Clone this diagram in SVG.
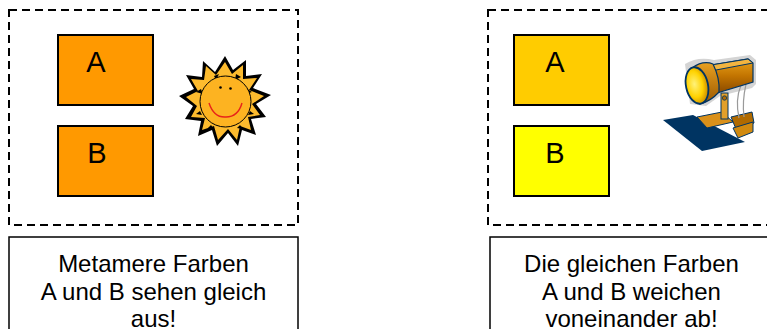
<svg xmlns="http://www.w3.org/2000/svg" width="767" height="329" viewBox="0 0 767 329">
  <defs>
    <style>
      .frame { fill: none; stroke: #000; stroke-width: 2; stroke-dasharray: 8 5; }
      .caption { fill: #fff; stroke: #000; stroke-width: 1.5; }
      .swatch { stroke: #000; stroke-width: 2; }
      .letter { font-family: "Liberation Sans", Arial, sans-serif; font-size: 29px; fill: #000; text-anchor: middle; }
      .label { font-family: "Liberation Sans", Arial, sans-serif; font-size: 24px; fill: #000; text-anchor: middle; }
    </style>
    <radialGradient id="lens" cx="0.4" cy="0.45" r="0.6">
      <stop offset="0" stop-color="#FFF27A"/>
      <stop offset="0.6" stop-color="#FFD200"/>
      <stop offset="1" stop-color="#C98A00"/>
    </radialGradient>
    <linearGradient id="housing" x1="0" y1="0" x2="0" y2="1">
      <stop offset="0" stop-color="#E9A21C"/>
      <stop offset="0.5" stop-color="#C27400"/>
      <stop offset="1" stop-color="#8A4A00"/>
    </linearGradient>
    <linearGradient id="shade" x1="0" y1="0" x2="0" y2="1">
      <stop offset="0" stop-color="#E8A020"/>
      <stop offset="1" stop-color="#9A5800"/>
    </linearGradient>
  </defs>

  <!-- left panel: daylight -->
  <g id="panel-left">
    <rect class="frame" x="9" y="10" width="289" height="215"/>
  </g>
  <g id="left-a">
    <rect class="swatch" x="58" y="35" width="95" height="70" fill="#FF9900"/>
    <text class="letter" x="96" y="72">A</text>
  </g>
  <g id="left-b">
    <rect class="swatch" x="58" y="126" width="95" height="70" fill="#FF9900"/>
    <text class="letter" x="97" y="163">B</text>
  </g>
  <g id="sun">
    <!-- outer black ray outline -->
    <polygon fill="#000" points="225,56 233,70 246,60 246,76 262,74 253,88 271,95 256,104 266,117 251,119 256,135 242,130 238,146 228,133 217,146 212,130 198,136 201,121 185,119 193,106 179,96 194,89 186,75 202,77 203,61 215,72"/>
    <!-- yellow rays -->
    <polygon fill="#FDBB2E" points="225,62 232,74 243,65 243,79 257,78 249,90 264,96 252,104 260,115 248,117 251,130 240,126 237,140 228,129 218,140 214,126 202,130 205,118 191,117 197,106 186,97 198,91 191,79 204,80 206,66 216,75"/>
    <!-- small dark accents at the ray bases -->
    <g fill="#000">
      <polygon points="214,76 219,74 216,80"/>
      <polygon points="236,74 241,77 235,80"/>
      <polygon points="247,89 252,92 246,94"/>
      <polygon points="250,111 254,114 248,115"/>
      <polygon points="240,125 243,129 237,128"/>
      <polygon points="211,125 214,129 208,128"/>
      <polygon points="200,111 196,114 202,115"/>
      <polygon points="201,89 196,92 203,94"/>
    </g>
    <circle cx="225.5" cy="101.5" r="25.5" fill="#FDB321" stroke="#000" stroke-width="1"/>
    <circle cx="220.5" cy="87.5" r="1.3" fill="#000"/>
    <circle cx="230.5" cy="88.5" r="1.3" fill="#000"/>
    <path d="M209,103 Q214,118 226,117 Q238,117 242,103" fill="none" stroke="#E8231A" stroke-width="1.4"/>
  </g>
  <g id="caption-left">
    <rect class="caption" x="9" y="237" width="289" height="100"/>
    <text class="label" x="153.5" y="272">Metamere Farben</text>
    <text class="label" x="153.5" y="300">A und B sehen gleich</text>
    <text class="label" x="153.5" y="327">aus!</text>
  </g>

  <!-- right panel: lamp light -->
  <g id="panel-right">
    <rect class="frame" x="488" y="10" width="289" height="215"/>
  </g>
  <g id="right-a">
    <rect class="swatch" x="514" y="35" width="95" height="70" fill="#FFCC00"/>
    <text class="letter" x="555" y="72">A</text>
  </g>
  <g id="right-b">
    <rect class="swatch" x="514" y="126" width="95" height="70" fill="#FFFF00"/>
    <text class="letter" x="555" y="163">B</text>
  </g>
  <g id="lamp">
    <!-- light grey halo behind the head -->
    <path d="M685,64 Q698,56 714,60 L750,55 L756,60 L756,84 L752,88 L720,96 L706,106 L690,104 Z" fill="#D4D4D4"/>
    <!-- cast shadow on the table -->
    <polygon points="663,120 693,115 745,142 702,151" fill="#003462"/>
    <!-- clamp -->
    <polygon points="731,117 752,112 754,123 736,129" fill="#B06A00" stroke="#003462" stroke-width="1"/>
    <polygon points="733,128 753,122 753,132 738,138" fill="#D18A10" stroke="#003462" stroke-width="1"/>
    <!-- base plate -->
    <polygon points="697,117 722,112 733,122 707,128" fill="#D9901A" stroke="#003462" stroke-width="1"/>
    <!-- stem -->
    <rect x="721" y="93" width="7" height="26" fill="#E3A02A" stroke="#003462" stroke-width="1"/>
    <circle cx="724.5" cy="98" r="2.2" fill="#B06A00" stroke="#003462" stroke-width="0.8"/>
    <!-- cable -->
    <path d="M741,85 Q735,100 739,118 M746,84 Q742,102 744,117" fill="none" stroke="#9A9A9A" stroke-width="1.2"/>
    <!-- housing -->
    <polygon points="711,65 748,59 753,63 753,82 717,93" fill="url(#housing)" stroke="#003462" stroke-width="1.2"/>
    <polygon points="711,65 748,59 753,63 716,70" fill="#F2B440" stroke="#003462" stroke-width="1"/>
    <!-- shade -->
    <path d="M692,68 Q703,60 713,64 Q720,78 719,92 Q711,101 700,104 Z" fill="url(#shade)" stroke="#003462" stroke-width="1.2"/>
    <!-- lens -->
    <ellipse cx="697" cy="85.5" rx="11" ry="18.5" transform="rotate(-12 697 85.5)" fill="url(#lens)" stroke="#003462" stroke-width="1.8"/>
  </g>
  <g id="caption-right">
    <rect class="caption" x="490" y="237" width="289" height="100"/>
    <text class="label" x="631.5" y="272">Die gleichen Farben</text>
    <text class="label" x="631.5" y="300">A und B weichen</text>
    <text class="label" x="631.5" y="327">voneinander ab!</text>
  </g>
</svg>
